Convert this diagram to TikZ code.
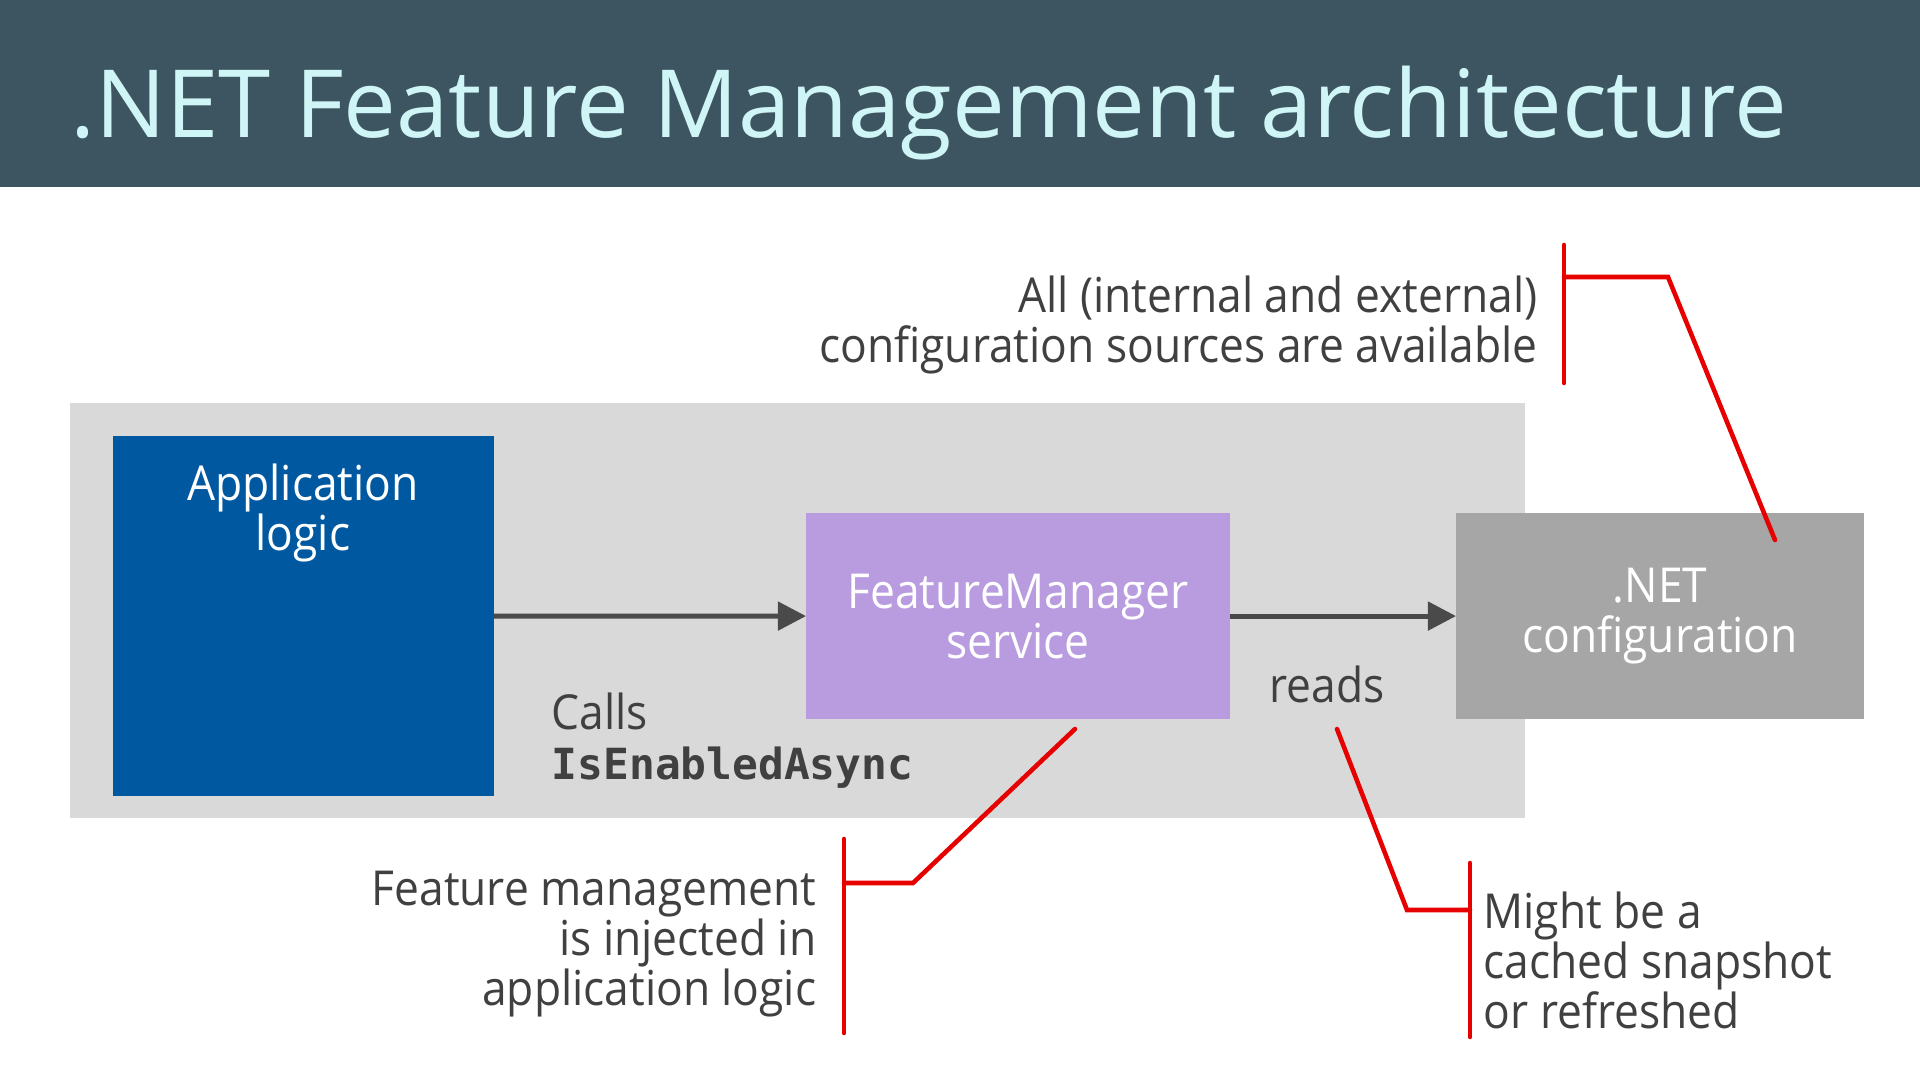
\documentclass[tikz,border=0pt]{standalone}
\usepackage{fontspec}
\setmainfont{Open Sans}[FakeStretch=0.92]
\newfontfamily\titlefont{Open Sans}
\newfontfamily\codefont{DejaVu Sans Mono}
\usetikzlibrary{arrows.meta, positioning}
\definecolor{hdrbg}{HTML}{3D5561}
\definecolor{titlecyan}{HTML}{CFF5F7}
\definecolor{panelgray}{HTML}{D9D9D9}
\definecolor{appblue}{HTML}{0058A0}
\definecolor{fmpurple}{HTML}{B89CDF}
\definecolor{cfggray}{HTML}{A6A6A6}
\definecolor{arrgray}{HTML}{4A4A4A}
\definecolor{txtgray}{HTML}{404040}
\definecolor{calloutred}{HTML}{E60000}

\begin{document}
\begin{tikzpicture}[
    x=0.01cm, y=-0.01cm,
    box/.style={anchor=north west, inner sep=0, outer sep=0, text=white, align=center, font=\fontsize{13.7}{14.2}\selectfont},
    note/.style={inner sep=0, text=txtgray, font=\fontsize{13.7}{14.2}\selectfont},
    arr/.style={-{Triangle[length=8pt, width=8pt]}, line width=1.4pt, draw=arrgray},
    callout/.style={draw=calloutred, line width=1.3pt, line cap=round}
]
\useasboundingbox (0,0) rectangle (1920,1081);
\fill[hdrbg] (0,0) rectangle (1920,187);
\node[anchor=base west, inner sep=0, text=titlecyan, font=\titlefont\fontsize{26.75}{30}\selectfont] (title) at (70,137) {.NET Feature Management architecture};

\fill[panelgray] (70,403) rectangle (1525,818);
\node[box, fill=appblue, minimum width=3.81cm, minimum height=3.6cm] (app) at (113,436) {};
\node[note, text=white, align=center, anchor=base] (apptxt) at (303,550) {Application\\logic};
\node[box, fill=fmpurple, minimum width=4.24cm, minimum height=2.06cm] (fm) at (806,513) {FeatureManager\\service};
\node[box, fill=cfggray, minimum width=4.08cm, minimum height=2.06cm] (cfg) at (1456,513) {\vphantom{(}.NET\\configuration};

\draw[arr] (app) -- (fm);
\draw[arr] (fm) -- (cfg);

\node[note, anchor=base west, align=left] (calls) at (551,779) {Calls\\{\codefont\fontsize{12.2}{14.2}\selectfont\bfseries IsEnabledAsync}};
\node[note, anchor=base] (reads) at (1327,702) {reads};

\node[note, anchor=base east, align=right] (allsrc) at (1538,362) {All (internal and external)\\configuration sources are available};
\node[note, anchor=base east, align=right] (injected) at (817,1005) {Feature management\\is injected in\\application logic};
\node[note, anchor=base west, align=left] (snapshot) at (1483,1028) {Might be a\\cached snapshot\\or refreshed};

\coordinate (srctop) at (1564,245);
\coordinate (srcbot) at (1564,383);
\coordinate (srcmid) at (1564,277);
\coordinate (srcknee) at (1668,277);
\coordinate (cfgtip) at (1775,540);
\draw[callout] (srctop) -- (srcbot);
\draw[callout] (srcmid) -- (srcknee) -- (cfgtip);

\coordinate (injtop) at (844,839);
\coordinate (injbot) at (844,1033);
\coordinate (injmid) at (844,883);
\coordinate (injknee) at (913,883);
\coordinate (fmtip) at (1075,729);
\draw[callout] (injtop) -- (injbot);
\draw[callout] (injmid) -- (injknee) -- (fmtip);

\coordinate (snaptop) at (1470,863);
\coordinate (snapbot) at (1470,1037);
\coordinate (snapmid) at (1470,910);
\coordinate (snapknee) at (1407,910);
\coordinate (readstip) at (1337,729);
\draw[callout] (snaptop) -- (snapbot);
\draw[callout] (snapmid) -- (snapknee) -- (readstip);
\end{tikzpicture}
\end{document}
